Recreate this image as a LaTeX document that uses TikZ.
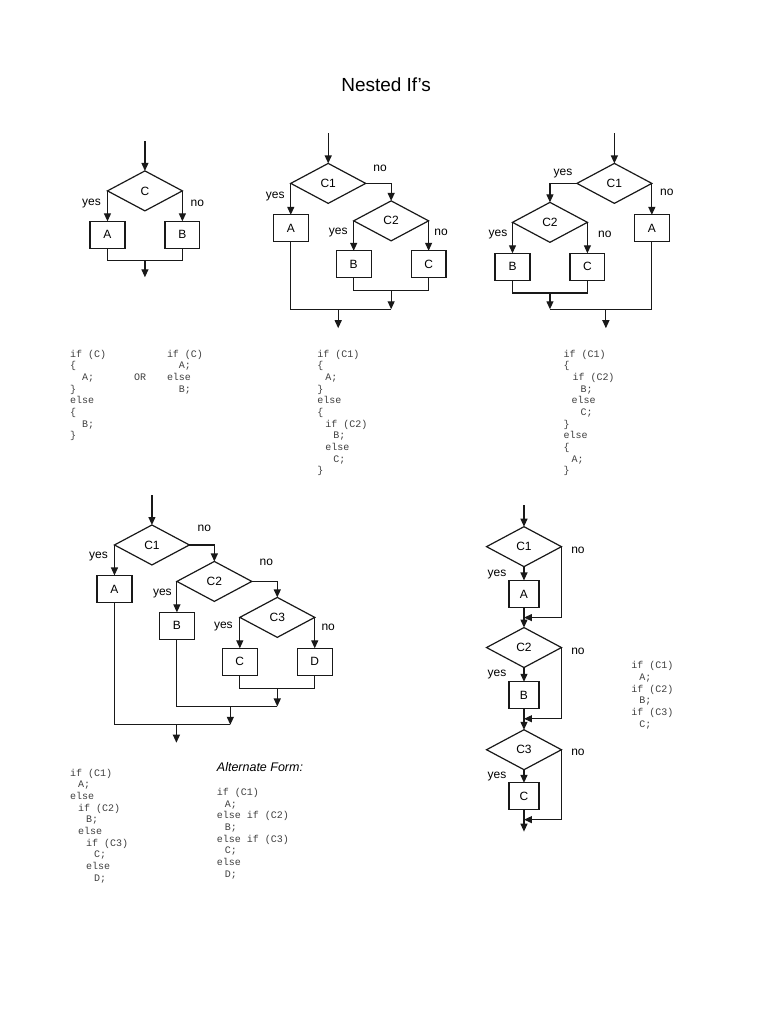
\documentclass[tikz,border=0pt]{standalone}
\usepackage{fontspec}
\setmainfont{Liberation Sans}
\newfontfamily\codefont{Liberation Mono}
\usetikzlibrary{shapes.geometric,arrows.meta}
\newcommand\cind[1]{\hspace*{#1}}
\begin{document}
\begin{tikzpicture}[x=1pt,y=-1pt,
  every path/.style={line width=1.2pt,draw=black!90},
  dia/.style={diamond,draw,minimum width=75pt,minimum height=40pt,inner sep=0pt,outer sep=0pt,font=\fontsize{12}{12}\selectfont},
  box/.style={rectangle,draw,minimum width=35pt,minimum height=27pt,inner sep=0pt,outer sep=0pt,font=\fontsize{12}{12}\selectfont},
  boxn/.style={box,minimum width=30pt},
  lbl/.style={inner sep=0pt,font=\fontsize{12}{12}\selectfont},
  arr/.style={-{Triangle[length=8pt,width=7pt]}},
  code/.style={inner sep=0pt,anchor=north west,align=left,text=black!75,font=\codefont\fontsize{10}{11.7}\selectfont},
]
\useasboundingbox (0,0) rectangle (770,1024);
\fill[white] (0,0) rectangle (770,1024);

\node[inner sep=0pt,font=\fontsize{19}{19}\selectfont] (title) at (386,84) {Nested If’s};

% ---------- Diagram 1 ----------
\coordinate (a0) at (144.5,141);
\node[dia] (a1) at (144.5,190.5) {C};
\node[box] (aA) at (107,234.5) {A};
\node[box] (aB) at (182,234.5) {B};
\coordinate (aj) at (144.5,260);
\coordinate (ao) at (144.5,277);
\draw[arr] (a0) -- (a1.north);
\draw[arr] (a1.west) -- (aA.north);
\draw[arr] (a1.east) -- (aB.north);
\draw (aA.south) |- (aj) -| (aB.south);
\draw[arr] (aj) -- (ao);
\node[lbl] (ay) at (91,203) {yes};
\node[lbl] (an) at (197,203) {no};

% ---------- Diagram 2 ----------
\coordinate (b0) at (328,133);
\node[dia] (b1) at (328,183) {C1};
\node[box] (bA) at (290.5,228) {A};
\node[dia] (b2) at (391,220.5) {C2};
\node[box] (bB) at (353.5,264) {B};
\node[box] (bC) at (428.5,264) {C};
\coordinate (bj1) at (391,290);
\coordinate (bj2) at (391,309);
\coordinate (bo1) at (338,309);
\coordinate (bo2) at (338,328);
\draw[arr] (b0) -- (b1.north);
\draw[arr] (b1.west) -- (bA.north);
\draw[arr] (b1.east) -| (b2.north);
\draw[arr] (b2.west) -- (bB.north);
\draw[arr] (b2.east) -- (bC.north);
\draw (bB.south) |- (bj1) -| (bC.south);
\draw[arr] (bj1) -- (bj2);
\draw (bA.south) |- (bj2);
\draw[arr] (bo1) -- (bo2);
\node[lbl] (bn1) at (380,168) {no};
\node[lbl] (by1) at (275,196) {yes};
\node[lbl] (by2) at (338,232) {yes};
\node[lbl] (bn2) at (441,232) {no};

% ---------- Diagram 3 ----------
\coordinate (c0) at (614.5,133);
\node[dia] (c1) at (614.5,183) {C1};
\node[box] (cA) at (652,228) {A};
\node[dia] (c2) at (550,222) {C2};
\node[box] (cB) at (512.5,266.5) {B};
\node[box] (cC) at (587.5,266.5) {C};
\coordinate (cj1) at (550,292.7);
\coordinate (cj2) at (550,309);
\coordinate (co1) at (606,309);
\coordinate (co2) at (606,328);
\draw[arr] (c0) -- (c1.north);
\draw[arr] (c1.west) -| (c2.north);
\draw[arr] (c1.east) -- (cA.north);
\draw[arr] (c2.west) -- (cB.north);
\draw[arr] (c2.east) -- (cC.north);
\draw (cB.south) |- (cj1) -| (cC.south);
\draw[arr] (cj1) -- (cj2);
\draw (cA.south) |- (cj2);
\draw[arr] (co1) -- (co2);
\node[lbl] (cy1) at (563,173) {yes};
\node[lbl] (cn1) at (667,192) {no};
\node[lbl] (cy2) at (498,234) {yes};
\node[lbl] (cn2) at (605,234) {no};

% ---------- Diagram 4 ----------
\coordinate (d0) at (151.5,495);
\node[dia] (d1) at (151.5,545) {C1};
\node[box] (dA) at (114,589) {A};
\node[dia] (d2) at (214,581.5) {C2};
\node[box] (dB) at (176.5,626) {B};
\node[dia] (d3) at (277,617.5) {C3};
\node[box] (dC) at (239.5,662) {C};
\node[box] (dD) at (314.5,662) {D};
\coordinate (dj1) at (277,688.3);
\coordinate (dj2) at (277,706.7);
\coordinate (dj3) at (230,706.7);
\coordinate (dj4) at (230,725);
\coordinate (do1) at (176,725);
\coordinate (do2) at (176,743);
\draw[arr] (d0) -- (d1.north);
\draw[arr] (d1.west) -- (dA.north);
\draw[arr] (d1.east) -| (d2.north);
\draw[arr] (d2.west) -- (dB.north);
\draw[arr] (d2.east) -| (d3.north);
\draw[arr] (d3.west) -- (dC.north);
\draw[arr] (d3.east) -- (dD.north);
\draw (dC.south) |- (dj1) -| (dD.south);
\draw[arr] (dj1) -- (dj2);
\draw (dB.south) |- (dj2);
\draw[arr] (dj3) -- (dj4);
\draw (dA.south) |- (dj4);
\draw[arr] (do1) -- (do2);
\node[lbl] (dn1) at (204,528) {no};
\node[lbl] (dy1) at (98,557) {yes};
\node[lbl] (dn2) at (266,562) {no};
\node[lbl] (dy2) at (162,594) {yes};
\node[lbl] (dy3) at (223,627) {yes};
\node[lbl] (dn3) at (328,627) {no};

% ---------- Diagram 5 ----------
\coordinate (e0) at (524,505);
\node[dia] (e1) at (524,546.7) {C1};
\node[boxn] (eA) at (524,594) {A};
\coordinate (ej1) at (524,617.7);
\node[dia] (e2) at (524,647.7) {C2};
\node[boxn] (eB) at (524,695.5) {B};
\coordinate (ej2) at (524,719);
\node[dia] (e3) at (524,750) {C3};
\node[boxn] (eC) at (524,796.7) {C};
\coordinate (ej3) at (524,820);
\coordinate (eo) at (524,832);
\draw[arr] (e0) -- (e1.north);
\draw[arr] (e1.south) -- (eA.north);
\draw[arr] (eA.south) -- (e2.north);
\draw[arr] (e1.east) |- (ej1);
\draw[arr] (e2.south) -- (eB.north);
\draw[arr] (eB.south) -- (e3.north);
\draw[arr] (e2.east) |- (ej2);
\draw[arr] (e3.south) -- (eC.north);
\draw[arr] (eC.south) -- (eo);
\draw[arr] (e3.east) |- (ej3);
\node[lbl] (en1) at (578,550) {no};
\node[lbl] (ey1) at (497,575) {yes};
\node[lbl] (en2) at (578,651) {no};
\node[lbl] (ey2) at (497,675) {yes};
\node[lbl] (en3) at (578,753) {no};
\node[lbl] (ey3) at (497,777) {yes};

% ---------- Code ----------
\node[code] (k1) at (69,349) {if (C)\\ \{\\ \cind{12pt}A;\\ \}\\ else\\ \{\\ \cind{12pt}B;\\ \}};
\node[code,anchor=west] (kor) at (133,377) {OR};
\node[code] (k1b) at (166,349) {if (C)\\ \cind{12pt}A;\\ else\\ \cind{12pt}B;};
\node[code] (k2) at (316.5,349) {if (C1)\\ \{\\ \cind{8pt}A;\\ \}\\ else\\ \{\\ \cind{8pt}if (C2)\\ \cind{16pt}B;\\ \cind{8pt}else\\ \cind{16pt}C;\\ \}};
\node[code] (k3) at (563,349) {if (C1)\\ \{\\ \cind{9pt}if (C2)\\ \cind{17pt}B;\\ \cind{8pt}else\\ \cind{17pt}C;\\ \}\\ else\\ \{\\ \cind{8pt}A;\\ \}};
\node[code] (k5) at (631,661) {if (C1)\\ \cind{8pt}A;\\ if (C2)\\ \cind{8pt}B;\\ if (C3)\\ \cind{8pt}C;};
\node[code] (k4) at (69,768.5) {if (C1)\\ \cind{8pt}A;\\ else\\ \cind{8pt}if (C2)\\ \cind{16pt}B;\\ \cind{8pt}else\\ \cind{16pt}if (C3)\\ \cind{24pt}C;\\ \cind{16pt}else\\ \cind{24pt}D;};
\node[inner sep=0pt,anchor=west,font=\itshape\fontsize{12.5}{12.5}\selectfont] (alt) at (216,767) {Alternate Form:};
\node[code] (k6) at (216,788) {if (C1)\\ \cind{8pt}A;\\ else if (C2)\\ \cind{8pt}B;\\ else if (C3)\\ \cind{8pt}C;\\ else\\ \cind{8pt}D;};
\end{tikzpicture}
\end{document}
